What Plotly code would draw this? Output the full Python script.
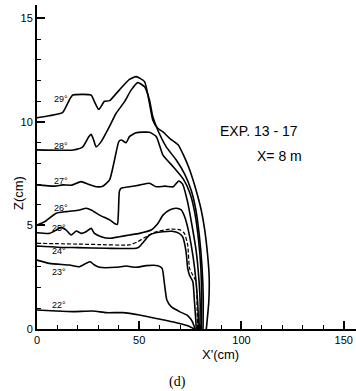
import plotly.graph_objects as go

# ---- data (X' in cm, Z in cm) ----
x29 = [0, 6, 12.5, 16, 17.5, 26.5, 28, 30.2, 33, 35.5, 40.3, 45.2, 48.5, 52.6, 55, 56.6, 59, 61.5, 65, 69, 72.1, 74.6, 77.8, 80.3, 82, 83.5, 84.2, 84, 82.8]
z29 = [10.2, 10.3, 10.45, 11.1, 11.3, 11.3, 11.0, 10.6, 11.0, 11.03, 11.55, 12.06, 12.19, 11.95, 10.9, 10.1, 9.7, 9.53, 9.2, 8.9, 8.3, 7.7, 6.7, 5.75, 4.8, 3.5, 2.5, 1.3, 0]

x28 = [0, 17.7, 22.4, 25.3, 26.5, 27.8, 28.9, 31.4, 35.4, 38.7, 42.8, 46.1, 49.3, 52.6, 55, 56.6, 59.1, 63.2, 68.1, 72.1, 75.4, 77.6, 79.4, 80.7, 81.3, 81.2]
z28 = [8.65, 8.65, 8.8, 9.29, 9.4, 9.1, 8.8, 9.05, 9.77, 10.42, 10.98, 11.55, 11.9, 11.7, 11.06, 10.26, 9.6, 8.8, 8.16, 7.5, 6.7, 5.8, 4.5, 3.0, 1.5, 0]

x27 = [0, 8.6, 12.6, 17, 21.6, 24.8, 28.9, 32.2, 35.5, 37.9, 40, 41.2, 43.6, 45.2, 48.5, 55, 58.3, 61.6, 66.6, 71.5, 74.8, 77.2, 79, 80.1, 80.5, 80.3]
z27 = [6.96, 6.9, 6.96, 6.95, 7.12, 7.0, 6.87, 6.9, 7.2, 8.16, 9.05, 9.13, 9.0, 9.29, 9.48, 9.5, 9.3, 8.4, 7.84, 7.25, 6.56, 5.6, 4.3, 3.0, 1.5, 0]

x26 = [0, 3.7, 9.4, 14.3, 20.8, 24, 26.5, 30.6, 35.5, 37.9, 39.3, 39.8, 40.3, 41.2, 45.2, 50.1, 55, 58.3, 62.6, 66.6, 69.3, 71.2, 73.5, 75.8, 77.8, 79.1, 79.8, 79.6]
z26 = [5.02, 5.18, 5.59, 5.67, 5.75, 5.83, 5.75, 5.5, 5.27, 5.1, 5.05, 5.6, 6.65, 6.8, 6.87, 6.95, 7.04, 6.87, 6.9, 6.87, 7.15, 7.0, 6.2, 5.0, 3.8, 2.5, 1.2, 0]

x25 = [0, 6.1, 9.4, 11.8, 14.3, 16.7, 19.2, 21.6, 24, 26.5, 28.1, 31.4, 35.5, 40.3, 45.2, 50.1, 55.8, 59.1, 61.6, 64.8, 68.1, 70.5, 72.3, 73.8, 75.5, 77, 78.2, 78.8, 78.9]
z25 = [4.65, 4.62, 4.78, 4.91, 4.78, 4.54, 4.73, 4.62, 4.7, 4.86, 4.62, 4.46, 4.38, 4.46, 4.54, 4.62, 4.78, 5.1, 5.5, 5.75, 5.83, 5.75, 5.4, 4.86, 4.0, 3.0, 1.8, 0.8, 0]

x24 = [0, 10, 20, 34, 48.5, 50.1, 52.5, 55, 58, 61.6, 66, 69.5, 71.2, 72.9, 73.7, 74.6, 76.2, 77, 77.6, 77.9]
z24 = [4.01, 3.95, 3.93, 3.9, 3.9, 3.98, 4.25, 4.54, 4.65, 4.7, 4.72, 4.62, 4.46, 3.73, 2.93, 2.6, 2.29, 1.32, 0.5, 0]

x24d = [0, 10, 20, 30, 45.2, 49, 53.4, 58.3, 64.8, 69.7, 72.1, 73.7, 74.6, 76.2, 77.8, 78.3, 78.5]
z24d = [4.14, 4.12, 4.1, 4.08, 4.06, 4.2, 4.46, 4.7, 4.82, 4.8, 4.62, 4.06, 2.93, 2.6, 2.29, 1.0, 0]

x23 = [0, 6.1, 15.9, 20.8, 24, 26, 28.1, 30.6, 38.7, 43.6, 48.5, 53.4, 59.1, 61.2, 62.3, 63.5, 65.6, 69.7, 73.7, 76, 77.3]
z23 = [3.33, 3.17, 3.09, 3.01, 3.17, 3.25, 3.09, 2.98, 2.98, 3.04, 2.98, 3.06, 3.06, 2.93, 2.2, 1.4, 1.08, 0.84, 0.65, 0.35, 0]

x22 = [0, 9.4, 17.5, 27.3, 33.9, 41.9, 50.1, 59.9, 69.7, 74, 77]
z22 = [0.92, 0.87, 0.84, 0.87, 0.79, 0.79, 0.68, 0.48, 0.27, 0.15, 0]

curve_labels = ["29°", "28°", "27°", "26°", "25°", "24°", "23°", "22°"]
label_x = [11.8, 11.8, 11.8, 11.5, 11.0, 11.0, 11.0, 11.0]
label_z = [11.1, 8.86, 7.15, 5.86, 4.9, 3.77, 2.74, 1.16]

x_ticks = [0, 50, 100, 150]
z_ticks = [0, 5, 10, 15]

FONT = "Liberation Sans"

fig = go.Figure()
solid = [(x29, z29), (x28, z28), (x27, z27), (x26, z26), (x25, z25),
         (x24, z24), (x23, z23), (x22, z22)]
for xs, zs in solid:
    fig.add_trace(go.Scatter(x=xs, y=zs, mode="lines",
                             line=dict(color="black", width=1.6, shape="spline", smoothing=0.5),
                             showlegend=False, hoverinfo="skip"))
fig.add_trace(go.Scatter(x=x24d, y=z24d, mode="lines",
                         line=dict(color="black", width=1.2, dash="4px,2px", shape="spline", smoothing=0.5),
                         showlegend=False, hoverinfo="skip"))

ann = []
for t, lx, lz in zip(curve_labels, label_x, label_z):
    ann.append(dict(x=lx, y=lz, xref="x", yref="y", text=t, showarrow=False,
                    font=dict(family=FONT, size=9, color="black"),
                    xanchor="center", yanchor="middle"))
ann.append(dict(x=88.3, y=9.57, xref="x", yref="y", text="EXP. 13 - 17", showarrow=False,
                font=dict(family=FONT, size=14, color="black"), xanchor="left", yanchor="middle"))
ann.append(dict(x=106.8, y=8.36, xref="x", yref="y", text="X= 8 m", showarrow=False,
                font=dict(family=FONT, size=14, color="black"), xanchor="left", yanchor="middle"))
ann.append(dict(x=0.574, y=-0.080, xref="paper", yref="paper", text="X'(cm)", showarrow=False,
                font=dict(family=FONT, size=13, color="black"), xanchor="center", yanchor="middle"))
ann.append(dict(x=-0.056, y=0.42, xref="paper", yref="paper", text="Z(cm)", showarrow=False, textangle=-90,
                font=dict(family=FONT, size=13, color="black"), xanchor="center", yanchor="middle"))
ann.append(dict(x=0.439, y=-0.164, xref="paper", yref="paper", text="(d)", showarrow=False,
                font=dict(family="Liberation Serif", size=14, color="black"), xanchor="center", yanchor="middle"))

fig.update_layout(
    width=356, height=391,
    margin=dict(l=37, r=0, t=5, b=62, autoexpand=False),
    paper_bgcolor="white", plot_bgcolor="white",
    annotations=ann,
    xaxis=dict(range=[0, 156], showgrid=False, zeroline=False, showline=True, automargin=False,
               linecolor="black", linewidth=2, ticks="inside", tickvals=x_ticks,
               ticklen=8, tickwidth=1.6, tickcolor="black",
               tickfont=dict(family=FONT, size=11, color="black"),
               minor=dict(dtick=10, tick0=0, ticks="inside", ticklen=4, tickwidth=1, tickcolor="black")),
    yaxis=dict(range=[0, 15.65], showgrid=False, zeroline=False, showline=True, automargin=False,
               linecolor="black", linewidth=2, ticks="inside", tickvals=z_ticks,
               ticklen=8, tickwidth=1.6, tickcolor="black",
               tickfont=dict(family=FONT, size=11, color="black"),
               minor=dict(dtick=1, tick0=0, ticks="inside", ticklen=4, tickwidth=1, tickcolor="black")),
)

fig.write_html("out.html", config={"displayModeBar": False},
               post_script="document.body.style.margin='0';")
